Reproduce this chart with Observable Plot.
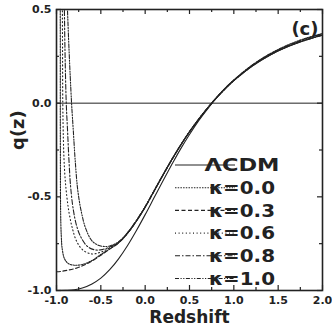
<!DOCTYPE html>
<html><head><meta charset="utf-8">
<script src="https://cdn.jsdelivr.net/npm/d3@7"></script>
<script src="https://cdn.jsdelivr.net/npm/@observablehq/plot@0.6"></script>
<style>body{margin:0;background:#fff} svg{display:block}</style>
</head><body><div id="chart"></div>
<script>
// ---- data ----
const xMajor = [-1, -0.5, 0, 0.5, 1, 1.5, 2];
const xMinor = [-0.75, -0.25, 0.25, 0.75, 1.25, 1.75];
const yMajor = [-1, -0.5, 0, 0.5];
const yMinor = [-0.75, -0.25, 0.25];

const legendNames = ["ΛCDM", "κ=0.0", "κ=0.3", "κ=0.6", "κ=0.8", "κ=1.0"];

const zLCDM = [-1,-0.9,-0.8,-0.7,-0.6,-0.5,-0.4,-0.3,-0.2,-0.1,0,0.1,0.2,0.3,0.4,0.5,0.6,0.7,0.8,0.9,1.0,1.2,1.4,1.6,1.8,2.0];
const qLCDM = [-1,-0.999,-0.996,-0.985,-0.965,-0.934,-0.889,-0.831,-0.761,-0.681,-0.595,-0.505,-0.415,-0.328,-0.244,-0.167,-0.096,-0.033,0.025,0.076,0.121,0.196,0.255,0.300,0.335,0.364];

const zK00 = [-0.958,-0.957,-0.957,-0.957,-0.956,-0.955,-0.952,-0.946,-0.935,-0.91,-0.87,-0.8,-0.7,-0.6,-0.5,-0.4,-0.3,-0.2,-0.1,0,0.1,0.2,0.3,0.4,0.5,0.6,0.7,0.8,0.9,1.0,1.2,1.4,1.6,1.8,2.0];
const qK00 = [0.55,0.3,0.1,-0.1,-0.3,-0.5,-0.62,-0.71,-0.78,-0.83,-0.855,-0.865,-0.86,-0.84,-0.808,-0.778,-0.746,-0.696,-0.631,-0.556,-0.471,-0.386,-0.303,-0.225,-0.152,-0.087,-0.027,0.028,0.079,0.124,0.201,0.262,0.309,0.345,0.372];

const zK03 = [-1,-0.95,-0.9,-0.8,-0.7,-0.6,-0.5,-0.4,-0.3,-0.2,-0.1,0,0.1,0.2,0.3,0.4,0.5,0.6,0.7,0.8,0.9,1.0,1.2,1.4,1.6,1.8,2.0];
const qK03 = [-0.9,-0.898,-0.894,-0.884,-0.867,-0.843,-0.812,-0.779,-0.746,-0.695,-0.63,-0.555,-0.47,-0.385,-0.303,-0.225,-0.153,-0.088,-0.028,0.027,0.078,0.123,0.2,0.26,0.306,0.342,0.37];

const zK06 = [-0.934,-0.932,-0.929,-0.922,-0.91,-0.89,-0.86,-0.82,-0.77,-0.7,-0.6,-0.5,-0.4,-0.3,-0.2,-0.1,0,0.1,0.2,0.3,0.4,0.5,0.6,0.7,0.8,0.9,1.0,1.2,1.4,1.6,1.8,2.0];
const qK06 = [0.55,0.3,0.0,-0.2,-0.35,-0.47,-0.58,-0.67,-0.74,-0.785,-0.805,-0.795,-0.772,-0.743,-0.694,-0.629,-0.554,-0.469,-0.384,-0.302,-0.224,-0.153,-0.088,-0.028,0.027,0.077,0.122,0.198,0.258,0.304,0.340,0.368];

const zK08 = [-0.912,-0.905,-0.89,-0.875,-0.86,-0.84,-0.81,-0.77,-0.72,-0.65,-0.57,-0.5,-0.4,-0.3,-0.2,-0.1,0,0.1,0.2,0.3,0.4,0.5,0.6,0.7,0.8,0.9,1.0,1.2,1.4,1.6,1.8,2.0];
const qK08 = [0.55,0.3,0.0,-0.15,-0.3,-0.45,-0.57,-0.66,-0.72,-0.765,-0.783,-0.783,-0.768,-0.742,-0.693,-0.628,-0.553,-0.468,-0.383,-0.301,-0.224,-0.153,-0.089,-0.029,0.026,0.076,0.121,0.197,0.256,0.302,0.337,0.365];

const zK10 = [-0.88,-0.86,-0.83,-0.81,-0.79,-0.76,-0.72,-0.67,-0.6,-0.53,-0.46,-0.4,-0.3,-0.2,-0.1,0,0.1,0.2,0.3,0.4,0.5,0.6,0.7,0.8,0.9,1.0,1.2,1.4,1.6,1.8,2.0];
const qK10 = [0.55,0.3,0.0,-0.15,-0.3,-0.465,-0.58,-0.67,-0.735,-0.758,-0.765,-0.762,-0.74,-0.692,-0.627,-0.552,-0.467,-0.382,-0.3,-0.223,-0.152,-0.088,-0.029,0.026,0.075,0.12,0.195,0.254,0.3,0.335,0.362];

// ---- styling ----
const ink = "#222";
const dashes = [null, "1.5,1.2", "4,2.5", "1,2.6", "5,2,1.5,2", "4,1.5,1.2,1.5,1.2,1.5"];
const seriesZ = [zLCDM, zK00, zK03, zK06, zK08, zK10];
const seriesQ = [qLCDM, qK00, qK03, qK06, qK08, qK10];

const lineMarks = seriesZ.map((zs, k) => Plot.line(
  zs.map((z, i) => ({z, q: seriesQ[k][i]})),
  {x: "z", y: "q", curve: "catmull-rom", stroke: ink, strokeWidth: 1.1,
   strokeDasharray: dashes[k] ?? undefined, clip: true}
));

const W = 332, H = 332, mL = 56, mR = 10, mT = 9, mB = 42;
const iw = W - mL - mR, ih = H - mT - mB;

const plot = Plot.plot({
  width: W, height: H,
  marginLeft: mL, marginRight: mR, marginTop: mT, marginBottom: mB,
  style: {fontFamily: "DejaVu Sans", color: ink, background: "#fff"},
  x: {domain: [-1, 2]},
  y: {domain: [-1, 0.5]},
  marks: [
    Plot.ruleY([0], {stroke: ink, strokeWidth: 1}),
    ...lineMarks,
    // inward ticks on all four sides
    Plot.tickX(xMajor, {x: d => d, insetTop: ih - 5, stroke: ink, strokeWidth: 1.2}),
    Plot.tickX(xMinor, {x: d => d, insetTop: ih - 3, stroke: ink, strokeWidth: 1.2}),
    Plot.tickX(xMajor, {x: d => d, insetBottom: ih - 5, stroke: ink, strokeWidth: 1.2}),
    Plot.tickX(xMinor, {x: d => d, insetBottom: ih - 3, stroke: ink, strokeWidth: 1.2}),
    Plot.tickY(yMajor, {y: d => d, insetRight: iw - 5, stroke: ink, strokeWidth: 1.2}),
    Plot.tickY(yMinor, {y: d => d, insetRight: iw - 3, stroke: ink, strokeWidth: 1.2}),
    Plot.tickY(yMajor, {y: d => d, insetLeft: iw - 5, stroke: ink, strokeWidth: 1.2}),
    Plot.tickY(yMinor, {y: d => d, insetLeft: iw - 3, stroke: ink, strokeWidth: 1.2}),
    Plot.frame({stroke: ink, strokeWidth: 1.6}),
    Plot.axisX({ticks: xMajor, tickSize: 0, tickPadding: 6, tickFormat: d => d.toFixed(1),
      fontSize: 11, fontWeight: "bold", label: null}),
    Plot.axisY({ticks: yMajor, tickSize: 0, tickPadding: 5, tickFormat: d => d.toFixed(1),
      fontSize: 11, fontWeight: "bold", label: null}),
    Plot.text(["q(z)"], {frameAnchor: "left", dx: -38, rotate: -90, fontSize: 18, fontWeight: "bold", fill: ink}),
    Plot.text(["Redshift"], {frameAnchor: "bottom", dy: 32, fontSize: 17, fontWeight: "bold", fill: ink}),
    Plot.text(["(c)"], {frameAnchor: "top-right", dx: -4, dy: 13, textAnchor: "end", fontSize: 18, fontWeight: "bold", fill: ink})
  ]
});
document.getElementById("chart").appendChild(plot);

// ---- legend inside the plot ----
const svg = d3.select(plot);
const lg = svg.append("g").attr("font-family", "DejaVu Sans").attr("font-weight", "bold");
legendNames.forEach((name, i) => {
  const y = 165 + i * 22.7;
  lg.append("line").attr("x1", 175).attr("x2", 235).attr("y1", y).attr("y2", y)
    .attr("stroke", ink).attr("stroke-width", 1.1)
    .attr("stroke-dasharray", dashes[i] ?? null);
  lg.append("text").attr("x", 242).attr("y", y).attr("dy", "0.36em")
    .attr("font-size", 17).attr("fill", ink)
    .attr("textLength", i === 0 ? 75 : 66).attr("lengthAdjust", "spacingAndGlyphs")
    .text(name);
});
</script>
</body></html>
